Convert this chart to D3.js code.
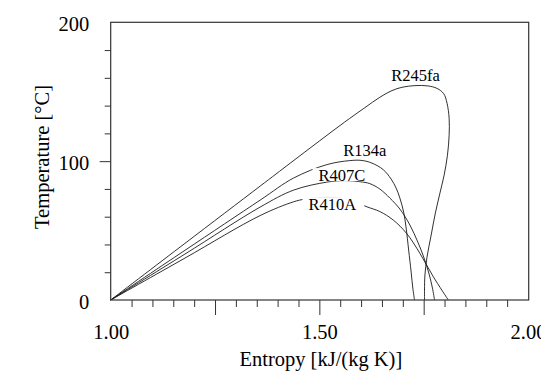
<!DOCTYPE html>
<html>
<head>
<meta charset="utf-8">
<script src="https://cdn.jsdelivr.net/npm/d3@7"></script>
<style>
  html, body { margin: 0; padding: 0; background: #fff; }
  svg { display: block; }
</style>
</head>
<body>
<svg id="chart" width="541" height="385"></svg>
<script>
// ---- Data (entropy s [kJ/(kg K)], temperature T [°C]) ----
const refrigerants = ["R245fa", "R134a", "R407C", "R410A"];

const r245faS = [1.000, 1.178, 1.358, 1.430, 1.500, 1.560, 1.609, 1.645, 1.674, 1.698, 1.729, 1.760, 1.782, 1.798, 1.806, 1.811, 1.811, 1.807, 1.799, 1.789, 1.778, 1.768, 1.758, 1.753, 1.752, 1.752];
const r245faT = [0, 40.8, 82.0, 98.5, 114.5, 128.0, 138.5, 146.0, 150.8, 153.2, 154.4, 154.2, 152.4, 148.6, 141.7, 130.9, 118.7, 104.3, 89.9, 77.0, 62.6, 46.8, 30.9, 18.0, 7.2, 0];

const r134aS = [1.000, 1.178, 1.358, 1.438, 1.518, 1.573, 1.602, 1.626, 1.653, 1.672, 1.684, 1.693, 1.702, 1.708, 1.714, 1.720, 1.724, 1.728];
const r134aT = [0, 35.8, 71.9, 87.8, 97.5, 100.4, 100.5, 98.6, 93.9, 87.1, 80.6, 73.4, 63.3, 51.8, 36.0, 20.1, 8.6, 0];

const r407cS = [1.000, 1.178, 1.358, 1.438, 1.518, 1.562, 1.597, 1.621, 1.645, 1.669, 1.693, 1.717, 1.736, 1.751, 1.763, 1.771, 1.776];
const r407cT = [0, 33.1, 66.9, 79.1, 84.9, 86.0, 85.2, 83.8, 79.9, 73.4, 65.5, 54.0, 41.7, 30.2, 18.7, 8.6, 0];

const r410aS = [1.000, 1.178, 1.358, 1.438, 1.466, 1.502, 1.538, 1.574, 1.614, 1.645, 1.677, 1.709, 1.741, 1.773, 1.809];
const r410aT = [0, 30.2, 60.8, 70.7, 72.7, 73.7, 73.7, 71.9, 67.1, 63.7, 57.6, 48.0, 33.6, 16.8, 0];

const seriesS = [r245faS, r134aS, r407cS, r410aS];
const seriesT = [r245faT, r134aT, r407cT, r410aT];

// label anchors (data coords: start s, baseline T)
const labelS = [1.672, 1.5574, 1.498, 1.474];
const labelT = [157.6, 103.6, 86.0, 65.1];

// ticks
const xLabelTicks = [1.00, 1.50, 2.00];
const xMajorTicks = [1.25, 1.50, 1.75];
const xMinorTicks = [1.05, 1.10, 1.15, 1.20, 1.30, 1.35, 1.40, 1.45, 1.55, 1.60, 1.65, 1.70, 1.80, 1.85, 1.90, 1.95];
const yLabelTicks = [0, 100, 200];
const yMajorTicks = [100];
const yMinorTicks = [20, 40, 60, 80, 120, 140, 160, 180];

// ---- Layout ----
const svg = d3.select("#chart");
const L = 110.7, R = 528.0, T = 22.3, B = 300;
const font = "'Liberation Serif', 'Times New Roman', Times, serif";

const x = d3.scaleLinear().domain([1.0, 2.0]).range([L, R]);
const y = d3.scaleLinear().domain([0, 200]).range([B, T]);

// curves
const line = d3.line()
  .x(d => x(d[0])).y(d => y(d[1]))
  .curve(d3.curveCatmullRom.alpha(0.5));

const gCurves = svg.append("g");
seriesS.forEach((sArr, i) => {
  const pts = sArr.map((s, j) => [s, seriesT[i][j]]);
  gCurves.append("path")
    .attr("d", line(pts))
    .attr("fill", "none")
    .attr("stroke", "#1a1a1a")
    .attr("stroke-width", 0.9);
});

// labels with white background
const gLab = svg.append("g");
refrigerants.forEach((name, i) => {
  const g = gLab.append("g");
  const t = g.append("text")
    .attr("x", x(labelS[i])).attr("y", y(labelT[i]))
    .attr("font-family", font).attr("font-size", "16.5px")
    .attr("fill", "#000")
    .text(name);
  const bb = t.node().getBBox();
  g.insert("rect", "text")
    .attr("x", bb.x - 6).attr("y", y(labelT[i]) - 12.5)
    .attr("width", bb.width + 14).attr("height", 13)
    .attr("fill", "#fff");
});

// axes
const axisColor = "#333";
function styleAxis(g) {
  g.select(".domain").remove();
  g.selectAll(".tick line").attr("stroke", axisColor).attr("stroke-width", 1);
  g.selectAll("text").attr("font-family", font).attr("font-size", "20.5px").attr("fill", "#000");
}

svg.append("g").attr("transform", `translate(0,${B})`)
  .call(d3.axisBottom(x).tickValues(xMinorTicks).tickSize(7).tickFormat(""))
  .call(styleAxis);
svg.append("g").attr("transform", `translate(0,${B})`)
  .call(d3.axisBottom(x).tickValues(xMajorTicks).tickSize(15).tickFormat(""))
  .call(styleAxis);
svg.append("g").attr("transform", `translate(0,${B})`)
  .call(d3.axisBottom(x).tickValues(xLabelTicks).tickSize(0).tickPadding(24.7).tickFormat(d3.format(".2f")))
  .call(styleAxis);

svg.append("g").attr("transform", `translate(${L},0)`)
  .call(d3.axisLeft(y).tickValues(yMinorTicks).tickSize(6).tickFormat(""))
  .call(styleAxis);
svg.append("g").attr("transform", `translate(${L},0)`)
  .call(d3.axisLeft(y).tickValues(yMajorTicks).tickSize(11).tickFormat(""))
  .call(styleAxis);
svg.append("g").attr("transform", `translate(${L},0)`)
  .call(d3.axisLeft(y).tickValues(yLabelTicks).tickSize(0).tickPadding(21.4).tickFormat(d3.format("d")))
  .call(styleAxis)
  .call(g => g.selectAll("text").attr("dy", "0.42em"));

// frame
svg.append("rect")
  .attr("x", L).attr("y", T).attr("width", R - L + 0.7).attr("height", B - T)
  .attr("fill", "none").attr("stroke", axisColor).attr("stroke-width", 1.2);

// axis titles
svg.append("text")
  .attr("x", (L + R) / 2 + 1.5).attr("y", 366)
  .attr("text-anchor", "middle")
  .attr("font-family", font).attr("font-size", "20.5px").attr("fill", "#000")
  .text("Entropy [kJ/(kg K)]");

svg.append("text")
  .attr("transform", `translate(48.5,157) rotate(-90)`)
  .attr("text-anchor", "middle")
  .attr("font-family", font).attr("font-size", "20.5px").attr("fill", "#000")
  .text("Temperature [°C]");
</script>
</body>
</html>
